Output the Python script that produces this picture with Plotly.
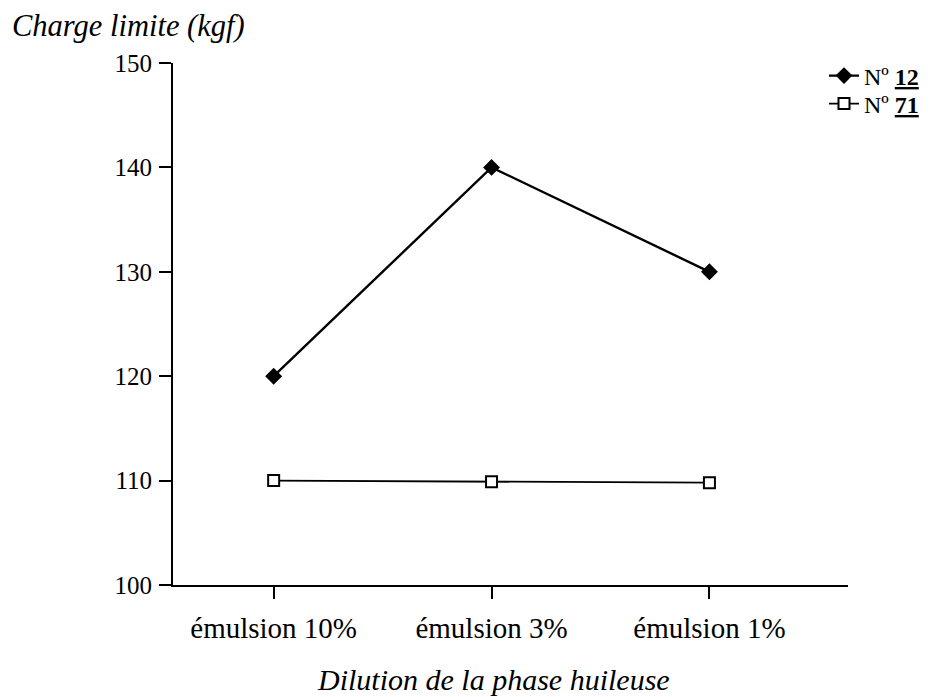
import plotly.graph_objects as go

categories = ["émulsion 10%", "émulsion 3%", "émulsion 1%"]
n12_values = [120, 140, 130]
n71_values = [110, 109.9, 109.8]
y_ticks = [100, 110, 120, 130, 140, 150]

font_family = "Liberation Serif, Times New Roman, serif"
xs = list(range(len(categories)))

# The page body adds an 8px margin, so the figure is sized/positioned accordingly.
OFF = 8
W, H = 942 - OFF, 697 - OFF
L, T = 173 - OFF, 63 - OFF
R = W - (848 - OFF)
B = H - (585 - OFF)
pw = W - L - R
ph = H - T - B


def px_x(x):
    return (x - OFF - L) / pw


def px_y(y):
    return 1 - (y - OFF - T) / ph


fig = go.Figure()
fig.add_trace(go.Scatter(
    x=xs, y=n12_values, mode="lines+markers", name="Nº <b><u>12</u></b>",
    line=dict(color="black", width=2.4),
    marker=dict(symbol="diamond", size=13, color="black"),
    legend="legend",
))
fig.add_trace(go.Scatter(
    x=xs, y=n71_values, mode="lines+markers", name="Nº <b><u>71</u></b>",
    line=dict(color="black", width=1.8),
    marker=dict(symbol="square", size=11, color="white", line=dict(color="black", width=2)),
    legend="legend2",
))

leg_common = dict(xanchor="left", yanchor="middle", font=dict(size=24), itemwidth=30,
                  bgcolor="rgba(0,0,0,0)", itemclick=False, itemdoubleclick=False)

fig.update_layout(
    width=W, height=H,
    paper_bgcolor="white", plot_bgcolor="white",
    margin=dict(l=L, r=R, t=T, b=B, autoexpand=False),
    font=dict(family=font_family, size=24, color="black"),
    showlegend=True,
    legend=dict(x=px_x(824), y=px_y(76), **leg_common),
    legend2=dict(x=px_x(824), y=px_y(104), **leg_common),
    xaxis=dict(
        range=[-0.462, 2.636], tickvals=xs, ticktext=categories,
        showline=True, linecolor="black", linewidth=2, ticks="outside", ticklen=12,
        tickcolor="black", tickwidth=1.5, showgrid=False, zeroline=False,
        tickfont=dict(size=29), ticklabelstandoff=4,
    ),
    yaxis=dict(
        range=[100, 150], tickvals=y_ticks,
        showline=True, linecolor="black", linewidth=2, ticks="outside", ticklen=12,
        tickcolor="black", tickwidth=1.5, showgrid=False, zeroline=False,
        tickfont=dict(size=25), ticklabelstandoff=2,
    ),
    annotations=[
        dict(text="<i>Charge limite (kgf)</i>", x=px_x(10), y=px_y(26),
             xref="paper", yref="paper", xanchor="left", yanchor="middle",
             showarrow=False, font=dict(size=30.5)),
        dict(text="<i>Dilution de la phase huileuse</i>", x=px_x(493), y=px_y(679),
             xref="paper", yref="paper", xanchor="center", yanchor="middle",
             showarrow=False, font=dict(size=30)),
    ],
)

fig.write_html("out.html")
